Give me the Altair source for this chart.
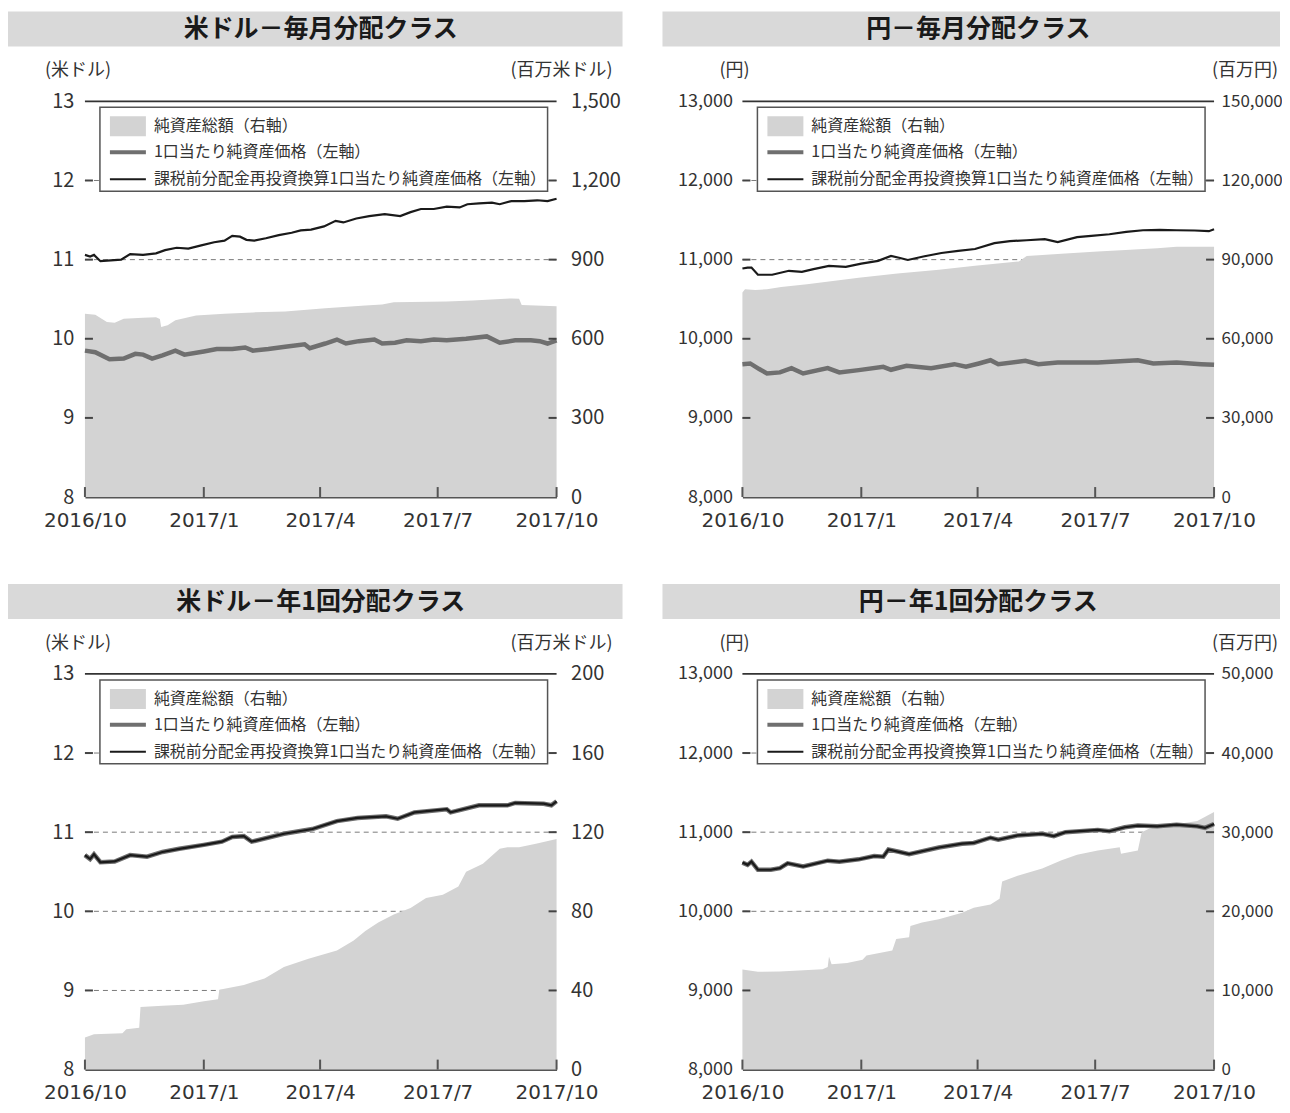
import altair as alt
import pandas as pd

FONT = "Noto Sans CJK JP"
XFONT = "DejaVu Sans"
START = pd.Timestamp("2016-10-01")
W, H = 472, 396

# ---------------- data (days since 2016-10-01) ----------------
# 米ドル－毎月分配クラス
tl_re_days = [0, 4, 7, 12, 20, 28, 35, 45, 55, 62, 71, 80, 90, 100, 108, 114, 120, 125, 131, 140, 150, 160, 167, 175, 185, 194, 200, 210, 220, 232, 244, 252, 260, 270, 280, 290, 296, 305, 315, 321, 330, 340, 350, 358, 365]
tl_re_vals = [11.06, 11.04, 11.06, 10.98, 10.99, 11.00, 11.07, 11.06, 11.08, 11.12, 11.15, 11.14, 11.18, 11.22, 11.24, 11.30, 11.29, 11.25, 11.24, 11.27, 11.31, 11.34, 11.37, 11.38, 11.42, 11.49, 11.47, 11.52, 11.55, 11.575, 11.55, 11.60, 11.64, 11.64, 11.67, 11.66, 11.70, 11.71, 11.72, 11.70, 11.74, 11.74, 11.75, 11.74, 11.77]
tl_nav_days = [0, 8, 19, 30, 39, 45, 52, 60, 70, 77, 92, 102, 114, 124, 130, 142, 155, 170, 174, 186, 195, 202, 212, 224, 230, 240, 249, 260, 270, 280, 295, 311, 321, 333, 345, 352, 358, 365]
tl_nav_vals = [9.85, 9.83, 9.74, 9.75, 9.81, 9.80, 9.75, 9.79, 9.85, 9.80, 9.84, 9.87, 9.87, 9.89, 9.85, 9.87, 9.90, 9.93, 9.88, 9.94, 9.99, 9.94, 9.97, 9.99, 9.94, 9.95, 9.98, 9.97, 9.99, 9.98, 10.00, 10.03, 9.95, 9.98, 9.98, 9.97, 9.94, 9.98]
tl_tna_days = [0, 8, 17, 23, 30, 45, 55, 58, 59, 64, 70, 86, 108, 130, 155, 186, 217, 230, 239, 280, 300, 330, 336, 338, 365]
tl_tna_vals = [695, 691, 664, 661, 676, 680, 682, 675, 645, 651, 670, 688, 695, 700, 703, 716, 726, 730, 738, 741, 745, 753, 752, 728, 723]

# 円－毎月分配クラス
tr_re_days = [0, 4, 7, 12, 23, 36, 46, 55, 67, 80, 92, 105, 115, 122, 128, 140, 154, 167, 180, 195, 207, 220, 234, 244, 259, 270, 284, 297, 310, 323, 336, 350, 361, 365]
tr_re_vals = [10888, 10900, 10900, 10809, 10809, 10859, 10846, 10880, 10921, 10909, 10950, 10984, 11046, 11020, 10996, 11040, 11084, 11110, 11134, 11209, 11234, 11245, 11259, 11221, 11284, 11300, 11321, 11350, 11371, 11375, 11371, 11368, 11359, 11384]
tr_nav_days = [0, 6, 13, 19, 29, 38, 47, 66, 75, 90, 109, 115, 127, 146, 164, 173, 183, 192, 198, 219, 229, 244, 275, 306, 318, 336, 355, 365]
tr_nav_vals = [9679, 9688, 9617, 9562, 9575, 9629, 9562, 9629, 9575, 9604, 9646, 9608, 9658, 9629, 9679, 9646, 9688, 9729, 9679, 9721, 9679, 9700, 9700, 9729, 9688, 9700, 9679, 9671]
tr_tna_days = [0, 2, 10, 19, 30, 50, 70, 90, 120, 152, 180, 214, 220, 250, 275, 300, 321, 336, 365]
tr_tna_vals = [77500, 78800, 78500, 78800, 79600, 80650, 81900, 83100, 84700, 86200, 87700, 89300, 91400, 92300, 93050, 93700, 94280, 94900, 94900]

# 米ドル－年1回分配クラス
bl_re_days = [0, 4, 7, 12, 23, 35, 48, 60, 73, 92, 106, 114, 123, 129, 154, 176, 195, 211, 233, 242, 255, 280, 283, 305, 327, 333, 355, 361, 365]
bl_re_vals = [10.71, 10.66, 10.72, 10.62, 10.63, 10.71, 10.69, 10.75, 10.79, 10.84, 10.88, 10.94, 10.95, 10.88, 10.98, 11.04, 11.14, 11.18, 11.20, 11.17, 11.25, 11.29, 11.25, 11.34, 11.34, 11.37, 11.36, 11.34, 11.39]
bl_nav_days = bl_re_days
bl_nav_vals = bl_re_vals
bl_tna_days = [0, 7, 29, 32, 42, 43, 60, 76, 92, 103, 104, 123, 139, 154, 173, 195, 208, 217, 227, 239, 252, 264, 277, 289, 295, 308, 321, 327, 336, 349, 365]
bl_tna_vals = [16.2, 17.9, 18.4, 20.4, 21.2, 31.7, 32.3, 32.8, 34.5, 35.6, 40.3, 42.8, 46.1, 51.9, 56.0, 60.2, 65.2, 70.1, 74.3, 78.4, 81.7, 86.7, 88.4, 92.5, 100.0, 104.1, 111.6, 112.4, 112.4, 114.1, 116.6]

# 円－年1回分配クラス
br_re_days = [0, 4, 7, 12, 22, 29, 35, 47, 66, 75, 90, 102, 109, 113, 121, 129, 152, 170, 179, 192, 198, 213, 232, 241, 250, 275, 284, 296, 306, 321, 336, 352, 358, 365]
br_re_vals = [10616, 10587, 10628, 10525, 10525, 10545, 10607, 10566, 10640, 10628, 10657, 10698, 10690, 10781, 10752, 10723, 10806, 10855, 10864, 10930, 10905, 10959, 10979, 10950, 11000, 11029, 11012, 11062, 11083, 11074, 11095, 11074, 11054, 11103]
br_nav_days = br_re_days
br_nav_vals = br_re_vals
br_tna_days = [0, 12, 29, 62, 66, 67, 69, 81, 93, 96, 116, 119, 129, 130, 139, 152, 170, 179, 192, 199, 201, 213, 232, 247, 259, 275, 292, 293, 306, 309, 315, 336, 352, 365]
br_tna_vals = [12645, 12355, 12397, 12687, 12977, 14304, 13309, 13475, 13889, 14428, 15050, 16501, 16709, 18160, 18574, 18989, 19818, 20440, 20854, 21601, 23757, 24503, 25415, 26451, 27157, 27696, 28111, 27281, 27696, 29976, 30474, 31012, 31427, 32546]

legend_labels = ["純資産総額（右軸）", "1口当たり純資産価格（左軸）", "課税前分配金再投資換算1口当たり純資産価格（左軸）"]
x_tick_dates = ["2016-10-01", "2017-01-01", "2017-04-01", "2017-07-01", "2017-10-01"]

AREA_GRAY = "#d3d3d3"
NAV_GRAY = "#6f6f6f"
TEXT = "#333333"

X_DOMAIN = [alt.DateTime(year=2016, month=10, date=1), alt.DateTime(year=2017, month=10, date=1)]
X_VALUES = [alt.DateTime(year=2016, month=10, date=1), alt.DateTime(year=2017, month=1, date=1),
            alt.DateTime(year=2017, month=4, date=1), alt.DateTime(year=2017, month=7, date=1),
            alt.DateTime(year=2017, month=10, date=1)]

HDR_L, HDR_R = -80, W + 66


def series(days, vals):
    return pd.DataFrame({"date": START + pd.to_timedelta(days, unit="D"), "v": vals})


def panel(title, lunit, runit, lunit_x, runit_x, ldom, rdom, nav, re, tna,
          lfont, rfont, lpad, rpad):
    lstep = 1 if ldom[1] < 100 else 1000
    lticks = [ldom[0] + i * lstep for i in range(6)]
    rstep = (rdom[1] - rdom[0]) / 5
    rticks = [int(rdom[0] + i * rstep) for i in range(6)]
    lscale = alt.Scale(domain=ldom, nice=False, zero=False)
    rscale = alt.Scale(domain=rdom, nice=False, zero=True)
    xscale = alt.Scale(domain=X_DOMAIN)
    one = pd.DataFrame({"k": [0]})

    grid = alt.Chart(pd.DataFrame({"v": lticks[1:5]})).mark_rule(
        color="#7a7a7a", strokeWidth=1, strokeDash=[5, 4]
    ).encode(y=alt.Y("v:Q", scale=lscale, axis=None), x=alt.value(0), x2=alt.value(W))

    area = alt.Chart(series(*tna)).mark_area(color=AREA_GRAY, opacity=1).encode(
        x=alt.X("date:T", scale=xscale, axis=alt.Axis(
            values=X_VALUES, format="%Y/%-m", title=None, ticks=False, grid=False,
            domain=True, domainColor="#555555", domainWidth=2, labelFont=XFONT,
            labelFontSize=20, labelColor=TEXT, labelPadding=13, labelFlush=False,
            labelOverlap=False)),
        y=alt.Y("v:Q", scale=rscale, axis=alt.Axis(
            orient="right", values=rticks, format=",d", title=None, ticks=False,
            domain=False, grid=False, labelFont=FONT, labelFontSize=rfont,
            labelColor=TEXT, labelPadding=rpad)),
    )

    navline = alt.Chart(series(*nav)).mark_line(color=NAV_GRAY, strokeWidth=4.5).encode(
        x=alt.X("date:T", scale=xscale),
        y=alt.Y("v:Q", scale=lscale, axis=alt.Axis(
            orient="left", values=lticks, format=",d", title=None, ticks=False,
            domain=False, grid=False, labelFont=FONT, labelFontSize=lfont,
            labelColor=TEXT, labelPadding=lpad)),
    )

    reline = alt.Chart(series(*re)).mark_line(color="#1a1a1a", strokeWidth=2.2).encode(
        x=alt.X("date:T", scale=xscale),
        y=alt.Y("v:Q", scale=lscale, axis=None),
    )

    topline = alt.Chart(pd.DataFrame({"v": [ldom[1]]})).mark_rule(
        color="#333333", strokeWidth=1.8
    ).encode(y=alt.Y("v:Q", scale=lscale, axis=None), x=alt.value(0), x2=alt.value(W))

    tickdf = pd.DataFrame({"v": lticks[1:5]})
    lt = alt.Chart(tickdf).mark_rule(color="#444444", strokeWidth=2).encode(
        y=alt.Y("v:Q", scale=lscale, axis=None), x=alt.value(0), x2=alt.value(8))
    rt = alt.Chart(tickdf).mark_rule(color="#444444", strokeWidth=2).encode(
        y=alt.Y("v:Q", scale=lscale, axis=None), x=alt.value(W - 8), x2=alt.value(W))
    xt = alt.Chart(pd.DataFrame({"date": pd.to_datetime(x_tick_dates)})).mark_rule(
        color="#555555", strokeWidth=2).encode(
        x=alt.X("date:T", scale=xscale), y=alt.value(H), y2=alt.value(H - 10))

    # legend box
    box = alt.Chart(one).mark_rect(fill="white", stroke="#555555", strokeWidth=1.5).encode(
        x=alt.value(15), x2=alt.value(463), y=alt.value(6), y2=alt.value(90))
    sw = alt.Chart(one).mark_rect(color=AREA_GRAY).encode(
        x=alt.value(25), x2=alt.value(61), y=alt.value(15), y2=alt.value(35))
    l2 = alt.Chart(one).mark_rule(color=NAV_GRAY, strokeWidth=4).encode(
        x=alt.value(25), x2=alt.value(61), y=alt.value(51))
    l3 = alt.Chart(one).mark_rule(color="#1a1a1a", strokeWidth=2).encode(
        x=alt.value(25), x2=alt.value(61), y=alt.value(78))
    legtexts = []
    for lab, yy in zip(legend_labels, [25, 51, 78]):
        legtexts.append(alt.Chart(pd.DataFrame({"t": [lab]})).mark_text(
            font=FONT, fontSize=16, color=TEXT, align="left", baseline="middle"
        ).encode(text="t:N", x=alt.value(69), y=alt.value(yy)))

    # header bar
    hdr = alt.Chart(one).mark_rect(color="#d9d9d9").encode(
        x=alt.value(HDR_L), x2=alt.value(HDR_R), y=alt.value(-90), y2=alt.value(-55))
    htxt = alt.Chart(pd.DataFrame({"t": [title]})).mark_text(
        font=FONT, fontSize=25, fontWeight="bold", color="#1a1a1a", align="center",
        baseline="middle").encode(text="t:N", x=alt.value(W / 2), y=alt.value(-72))
    ul = alt.Chart(pd.DataFrame({"t": [lunit]})).mark_text(
        font=FONT, fontSize=18, color=TEXT, align="left", baseline="middle"
    ).encode(text="t:N", x=alt.value(lunit_x), y=alt.value(-30))
    ur = alt.Chart(pd.DataFrame({"t": [runit]})).mark_text(
        font=FONT, fontSize=18, color=TEXT, align="right", baseline="middle"
    ).encode(text="t:N", x=alt.value(runit_x), y=alt.value(-30))

    return alt.layer(
        grid, area, navline, reline, topline, lt, rt, xt,
        box, sw, l2, l3, *legtexts, hdr, htxt, ul, ur
    ).resolve_scale(y="independent").properties(width=W, height=H)


p1 = panel("米ドル－毎月分配クラス", "(米ドル)", "(百万米ドル)", -40, 528, [8, 13], [0, 1500],
           (tl_nav_days, tl_nav_vals), (tl_re_days, tl_re_vals), (tl_tna_days, tl_tna_vals),
           20, 20, 11, 14)
p2 = panel("円－毎月分配クラス", "(円)", "(百万円)", -23, 536, [8000, 13000], [0, 150000],
           (tr_nav_days, tr_nav_vals), (tr_re_days, tr_re_vals), (tr_tna_days, tr_tna_vals),
           18, 17, 10, 7)
p3 = panel("米ドル－年1回分配クラス", "(米ドル)", "(百万米ドル)", -40, 528, [8, 13], [0, 200],
           (bl_nav_days, bl_nav_vals), (bl_re_days, bl_re_vals), (bl_tna_days, bl_tna_vals),
           20, 20, 11, 14)
p4 = panel("円－年1回分配クラス", "(円)", "(百万円)", -23, 536, [8000, 13000], [0, 50000],
           (br_nav_days, br_nav_vals), (br_re_days, br_re_vals), (br_tna_days, br_tna_vals),
           18, 17, 10, 7)

chart = alt.vconcat(
    alt.hconcat(p1, p2, spacing=40),
    alt.hconcat(p3, p4, spacing=40),
    spacing=54,
).properties(
    padding={"left": -3, "top": 3, "right": -1, "bottom": 0}
).configure_view(stroke=None)

chart.save("out.html", embed_options={"renderer": "svg", "actions": False})
